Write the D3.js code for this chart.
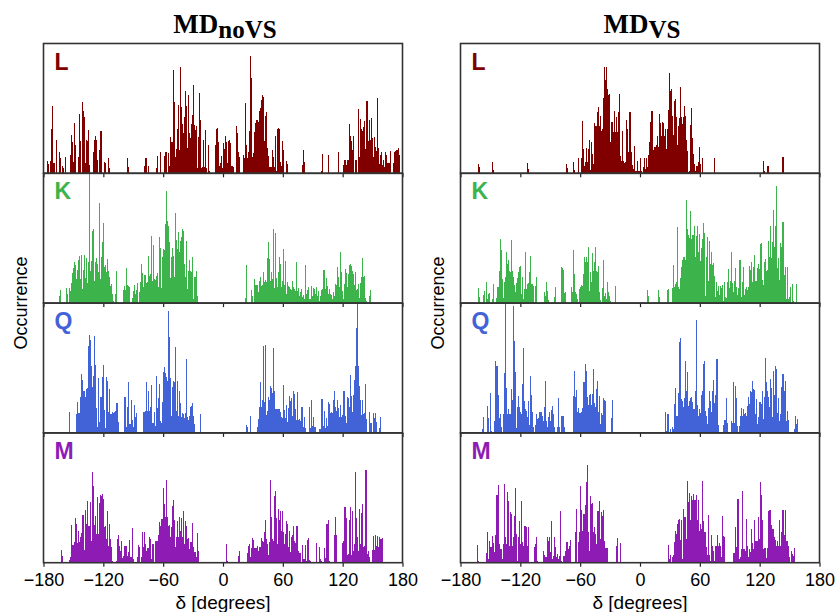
<!DOCTYPE html>
<html>
<head>
<meta charset="utf-8">
<script src="https://cdn.jsdelivr.net/npm/d3@7/dist/d3.min.js"></script>
<style>
  body { margin: 0; background: #fff; }
  svg { display: block; }
</style>
</head>
<body>
<script>
// data: 1-degree histogram bins, [left edge of bin (deg), count]
var xTicks = [-180, -120, -60, 0, 60, 120, 180];
var residues = ["L", "K", "Q", "M"];
var residueColors = ["#800000", "#3cb44b", "#4262d8", "#8e1cb4"];
var columnTitles = [["MD", "noVS"], ["MD", "VS"]];

var L_noVS = [[-176,12],[-175,9],[-173,12],[-172,44],[-171,67],[-170,10],[-169,10],[-167,33],[-164,21],[-163,15],[-161,7],[-160,5],[-158,16],[-153,18],[-152,38],[-151,31],[-150,11],[-149,50],[-148,28],[-145,16],[-144,59],[-143,32],[-141,71],[-140,62],[-139,56],[-138,10],[-137,33],[-136,32],[-135,43],[-134,8],[-130,21],[-129,33],[-128,37],[-127,33],[-126,13],[-124,23],[-123,42],[-122,42],[-119,11],[-118,10],[-115,15],[-114,5],[-96,15],[-95,6],[-79,7],[-78,15],[-77,15],[-75,7],[-67,5],[-66,17],[-63,21],[-59,17],[-58,21],[-57,21],[-55,20],[-54,7],[-53,36],[-52,31],[-51,31],[-50,103],[-49,71],[-48,16],[-47,24],[-46,44],[-45,68],[-44,23],[-43,106],[-42,66],[-41,49],[-40,40],[-39,56],[-38,82],[-37,67],[-36,25],[-35,78],[-34,40],[-33,35],[-32,49],[-31,58],[-30,88],[-29,48],[-28,43],[-27,47],[-26,5],[-25,36],[-24,80],[-23,53],[-22,5],[-21,6],[-20,33],[-19,6],[-18,43],[-17,5],[-15,28],[-14,2],[-8,28],[-7,44],[-6,45],[-5,31],[-4,7],[-3,10],[-2,17],[-1,5],[0,30],[1,24],[2,37],[3,31],[4,10],[5,32],[6,33],[7,30],[8,7],[9,7],[10,6],[13,47],[14,40],[15,21],[16,16],[20,18],[21,15],[22,70],[23,28],[24,15],[25,21],[26,42],[27,117],[28,95],[29,16],[30,20],[31,41],[32,50],[33,53],[34,53],[35,51],[36,62],[37,65],[38,73],[39,78],[40,76],[41,32],[42,57],[43,61],[44,25],[45,17],[46,6],[47,6],[48,6],[49,23],[50,16],[51,6],[52,37],[53,2],[54,44],[55,45],[56,44],[57,11],[58,7],[59,32],[60,23],[63,12],[64,9],[79,8],[80,23],[81,11],[98,2],[99,19],[105,18],[115,21],[120,8],[121,13],[122,13],[123,8],[124,13],[125,13],[126,49],[127,37],[128,32],[129,23],[130,37],[132,13],[133,13],[135,64],[136,16],[137,54],[138,44],[139,42],[140,46],[141,52],[142,24],[143,72],[144,72],[145,32],[146,53],[147,33],[148,55],[149,35],[150,16],[151,36],[152,26],[153,22],[154,75],[155,25],[156,9],[157,18],[158,21],[159,8],[160,13],[161,6],[162,21],[163,18],[164,10],[165,10],[166,10],[167,22],[170,10],[171,21],[172,22],[173,23],[174,23],[175,25],[176,18]];

var K_noVS = [[-164,7],[-163,13],[-157,15],[-156,9],[-154,15],[-153,12],[-152,20],[-151,30],[-150,35],[-149,41],[-148,38],[-147,24],[-146,33],[-145,43],[-144,47],[-143,24],[-142,48],[-141,14],[-140,33],[-139,48],[-138,25],[-137,45],[-136,20],[-135,41],[-134,128],[-133,32],[-132,42],[-131,72],[-130,74],[-129,22],[-128,41],[-127,45],[-126,39],[-125,31],[-124,99],[-123,24],[-122,46],[-121,61],[-120,80],[-119,36],[-118,38],[-117,31],[-116,44],[-115,32],[-114,26],[-113,17],[-112,19],[-111,9],[-110,2],[-108,9],[-107,32],[-100,13],[-99,17],[-98,13],[-97,35],[-96,18],[-95,17],[-94,16],[-91,5],[-90,12],[-89,18],[-88,9],[-87,13],[-86,20],[-84,11],[-83,21],[-82,39],[-81,30],[-80,16],[-79,28],[-78,28],[-77,20],[-76,21],[-75,47],[-74,27],[-73,29],[-72,67],[-71,22],[-70,58],[-69,24],[-68,23],[-67,27],[-66,30],[-65,16],[-64,66],[-63,55],[-62,15],[-61,46],[-60,54],[-59,53],[-58,79],[-57,111],[-56,82],[-55,77],[-54,61],[-53,25],[-52,46],[-51,55],[-50,47],[-49,26],[-48,90],[-47,63],[-46,54],[-45,71],[-44,51],[-43,62],[-42,66],[-41,74],[-40,72],[-39,39],[-38,26],[-37,62],[-36,14],[-35,32],[-34,43],[-33,32],[-32,31],[-31,46],[-30,4],[-29,26],[-28,26],[-27,32],[-26,7],[22,5],[23,38],[28,13],[29,7],[31,24],[32,18],[33,18],[34,18],[35,11],[36,22],[37,26],[38,17],[39,18],[40,31],[41,21],[42,23],[43,21],[44,45],[45,61],[46,44],[47,22],[48,31],[49,24],[50,74],[51,15],[52,70],[53,25],[54,16],[55,31],[56,46],[57,39],[58,16],[59,22],[60,54],[61,18],[62,42],[63,9],[64,21],[65,17],[66,16],[67,14],[68,13],[69,22],[70,16],[71,14],[72,12],[73,41],[74,12],[75,15],[76,7],[77,11],[78,14],[79,6],[80,8],[81,4],[82,38],[83,9],[84,13],[85,16],[86,4],[87,4],[88,17],[89,7],[90,15],[91,14],[92,9],[93,16],[94,7],[95,12],[96,2],[97,7],[98,13],[99,14],[100,33],[101,33],[102,14],[103,25],[104,17],[105,9],[106,14],[107,9],[108,8],[109,4],[110,11],[111,7],[112,19],[113,18],[114,36],[115,26],[116,16],[117,51],[118,31],[119,12],[120,4],[121,19],[122,34],[123,30],[124,16],[125,29],[126,38],[127,39],[128,37],[129,32],[130,29],[131,18],[132,31],[133,13],[134,14],[135,19],[136,5],[137,20],[138,26],[139,45],[140,26],[141,27],[142,5],[143,2],[146,7],[147,13]];

var Q_noVS = [[-154,21],[-147,19],[-146,31],[-145,20],[-144,20],[-143,36],[-142,59],[-141,53],[-140,42],[-139,42],[-138,36],[-137,44],[-136,45],[-135,86],[-134,97],[-133,92],[-132,66],[-131,46],[-130,57],[-129,96],[-128,67],[-127,25],[-126,6],[-125,55],[-124,11],[-123,36],[-122,36],[-121,56],[-120,67],[-119,23],[-118,5],[-117,56],[-116,52],[-115,21],[-114,44],[-113,19],[-112,19],[-111,21],[-110,20],[-109,21],[-108,22],[-107,30],[-106,30],[-105,11],[-99,36],[-98,36],[-97,6],[-96,26],[-95,51],[-94,9],[-93,9],[-92,33],[-91,13],[-90,6],[-89,28],[-88,16],[-87,20],[-80,21],[-79,21],[-78,22],[-77,51],[-76,22],[-75,42],[-74,22],[-73,26],[-72,48],[-71,10],[-70,10],[-69,21],[-68,7],[-67,57],[-66,25],[-65,35],[-64,49],[-63,12],[-62,10],[-61,31],[-60,61],[-59,65],[-58,60],[-57,56],[-56,52],[-55,121],[-54,95],[-53,55],[-52,17],[-51,46],[-50,52],[-49,51],[-48,85],[-47,22],[-46,52],[-45,17],[-44,42],[-43,30],[-42,16],[-41,20],[-40,19],[-39,15],[-38,20],[-37,73],[-36,16],[-35,13],[-34,17],[-33,26],[-32,27],[-31,30],[-30,17],[-29,9],[-23,19],[23,8],[24,6],[27,17],[34,6],[35,14],[36,26],[37,51],[38,26],[39,33],[40,86],[41,31],[42,87],[43,18],[44,22],[45,36],[46,33],[47,47],[48,45],[49,40],[50,84],[51,42],[52,24],[53,24],[54,24],[55,24],[56,24],[57,21],[58,16],[59,15],[60,48],[61,23],[62,15],[63,28],[64,11],[65,25],[66,37],[67,32],[68,35],[69,17],[70,42],[71,39],[72,24],[73,13],[74,41],[75,13],[76,14],[77,12],[78,26],[79,26],[80,6],[81,16],[82,5],[86,26],[87,5],[88,33],[89,7],[90,16],[91,6],[92,6],[96,4],[97,4],[98,34],[99,34],[100,7],[101,22],[102,5],[103,15],[104,7],[105,31],[106,29],[107,20],[108,21],[109,20],[110,33],[111,42],[112,26],[113,22],[114,33],[115,25],[116,16],[117,28],[118,16],[119,18],[120,42],[121,42],[122,17],[123,10],[124,36],[125,35],[126,26],[127,58],[128,37],[129,21],[130,38],[131,53],[132,66],[133,104],[134,128],[135,66],[136,47],[137,33],[138,18],[139,33],[140,19],[141,20],[142,49],[143,14],[146,21],[147,10],[148,10],[150,20],[151,15],[152,20],[153,11],[156,5],[157,16]];

var M_noVS = [[-162,13],[-161,7],[-154,3],[-153,6],[-152,37],[-151,18],[-150,18],[-149,21],[-148,44],[-147,38],[-146,20],[-145,32],[-144,21],[-143,26],[-142,30],[-141,47],[-140,47],[-139,13],[-138,52],[-137,38],[-136,61],[-135,36],[-134,36],[-133,60],[-132,22],[-131,90],[-130,76],[-129,37],[-128,46],[-127,29],[-126,65],[-125,29],[-124,59],[-123,67],[-122,66],[-121,68],[-120,63],[-119,35],[-118,36],[-117,24],[-116,51],[-115,17],[-114,38],[-113,24],[-112,16],[-111,2],[-107,2],[-106,24],[-105,28],[-104,17],[-103,12],[-102,22],[-101,5],[-100,7],[-99,17],[-98,17],[-97,17],[-96,7],[-95,11],[-94,23],[-93,6],[-92,6],[-91,34],[-90,4],[-86,6],[-85,18],[-84,16],[-82,6],[-81,31],[-80,16],[-79,31],[-78,19],[-77,12],[-76,15],[-75,15],[-74,26],[-73,24],[-72,4],[-71,19],[-70,19],[-68,22],[-67,22],[-66,22],[-65,28],[-64,40],[-63,36],[-62,43],[-61,43],[-60,74],[-59,58],[-58,45],[-57,82],[-56,45],[-55,36],[-54,37],[-53,26],[-52,35],[-51,56],[-50,62],[-49,42],[-48,16],[-47,26],[-46,41],[-45,26],[-44,45],[-43,32],[-42,44],[-41,26],[-40,51],[-39,19],[-38,41],[-37,36],[-36,24],[-35,25],[-34,14],[-33,21],[-32,21],[-31,39],[-30,16],[-29,11],[-28,11],[-27,6],[-26,30],[-25,12],[3,19],[4,2],[15,7],[16,12],[24,10],[25,17],[26,19],[27,6],[28,15],[29,25],[30,23],[31,15],[32,15],[33,15],[34,17],[35,12],[36,16],[37,16],[38,25],[39,22],[40,21],[41,31],[42,42],[43,24],[44,19],[45,8],[46,21],[47,82],[48,45],[49,24],[50,22],[51,66],[52,71],[53,44],[54,19],[55,53],[56,42],[57,51],[58,32],[59,51],[60,31],[61,19],[62,29],[63,41],[64,38],[65,16],[66,32],[67,11],[68,26],[69,28],[70,36],[71,22],[72,20],[73,36],[74,36],[75,12],[76,10],[77,10],[79,18],[80,4],[81,4],[82,18],[83,2],[84,23],[85,25],[86,3],[87,2],[93,20],[96,16],[97,4],[98,2],[101,15],[102,5],[103,38],[104,38],[105,42],[106,2],[111,28],[112,45],[113,28],[119,20],[120,22],[121,55],[122,55],[123,44],[124,8],[125,9],[126,42],[127,55],[128,8],[129,51],[130,12],[131,19],[132,90],[133,44],[134,26],[135,12],[136,53],[137,19],[138,49],[139,58],[140,16],[141,17],[142,92],[143,92],[144,9],[145,12],[146,6],[149,13],[150,27],[151,13],[152,28],[153,17],[154,27],[155,16],[156,26],[157,24],[158,24],[159,25]];

var L_VS = [[-162,9],[-161,6],[-148,11],[-147,3],[-113,10],[-112,4],[-74,9],[-73,5],[-67,11],[-66,3],[-62,15],[-59,15],[-58,52],[-57,24],[-56,7],[-55,11],[-54,25],[-53,11],[-52,24],[-51,33],[-50,3],[-49,31],[-48,19],[-47,9],[-46,50],[-45,47],[-44,47],[-43,61],[-42,66],[-41,47],[-40,57],[-39,42],[-38,44],[-37,75],[-36,106],[-35,93],[-34,106],[-33,84],[-32,78],[-31,79],[-30,31],[-29,51],[-28,51],[-27,41],[-26,62],[-25,41],[-24,56],[-23,41],[-22,61],[-21,79],[-20,17],[-19,12],[-18,42],[-17,12],[-16,10],[-15,11],[-14,53],[-13,44],[-12,21],[-11,61],[-10,61],[-9,21],[-8,8],[-7,4],[-6,27],[-5,2],[-4,2],[-3,12],[-2,2],[-1,2],[0,15],[1,2],[3,6],[4,15],[5,4],[6,15],[7,6],[8,18],[9,31],[10,51],[11,62],[12,62],[13,23],[14,26],[15,26],[16,28],[17,37],[18,26],[19,59],[20,50],[21,37],[22,51],[23,50],[24,37],[25,44],[26,24],[27,44],[28,63],[29,100],[30,82],[31,84],[32,57],[33,38],[34,72],[35,74],[36,56],[37,28],[38,47],[39,55],[40,86],[41,56],[42,49],[43,56],[44,67],[45,57],[46,33],[47,22],[48,1],[49,2],[50,48],[51,65],[52,35],[53,19],[54,9],[55,2],[56,7],[57,7],[58,11],[59,26],[60,9],[62,15],[74,15],[123,12],[124,2],[127,7],[128,7],[142,16],[143,16]];

var K_VS = [[-162,15],[-161,6],[-157,8],[-156,12],[-154,21],[-153,4],[-152,9],[-151,10],[-148,4],[-147,19],[-144,5],[-143,16],[-142,16],[-141,32],[-140,64],[-139,53],[-138,24],[-137,5],[-136,21],[-135,26],[-134,51],[-133,39],[-132,43],[-131,32],[-130,31],[-129,63],[-128,32],[-127,26],[-126,18],[-125,11],[-124,20],[-123,25],[-122,31],[-121,36],[-120,37],[-119,9],[-118,26],[-117,4],[-116,14],[-115,51],[-114,14],[-113,19],[-112,20],[-111,31],[-110,47],[-109,19],[-108,19],[-107,17],[-106,1],[-105,17],[-104,26],[-96,11],[-95,7],[-94,21],[-93,12],[-92,3],[-86,6],[-85,16],[-79,36],[-78,35],[-77,33],[-76,10],[-75,11],[-69,16],[-68,11],[-67,53],[-66,29],[-65,11],[-64,9],[-63,4],[-61,14],[-60,16],[-59,18],[-58,17],[-57,29],[-56,46],[-55,41],[-54,46],[-53,41],[-52,56],[-51,12],[-50,31],[-49,21],[-48,50],[-47,32],[-46,41],[-45,56],[-44,32],[-43,31],[-42,37],[-41,11],[-40,3],[-38,15],[-37,43],[-36,7],[-35,10],[-34,4],[-33,21],[-32,11],[-31,7],[-30,2],[-25,17],[7,13],[8,7],[18,13],[19,6],[27,13],[28,14],[32,15],[33,38],[34,16],[35,19],[36,21],[37,76],[38,16],[39,14],[40,25],[41,36],[42,43],[43,46],[44,46],[45,43],[46,102],[47,74],[48,68],[49,65],[50,92],[51,64],[52,68],[53,68],[54,77],[55,46],[56,67],[57,77],[58,51],[59,69],[60,42],[61,55],[62,64],[63,80],[64,70],[65,7],[66,46],[67,66],[68,22],[69,62],[70,39],[71,51],[72,38],[73,40],[74,27],[75,6],[76,21],[77,12],[78,17],[79,8],[80,17],[81,15],[82,18],[83,2],[84,21],[85,6],[86,5],[87,21],[88,34],[89,15],[90,22],[91,51],[92,20],[93,11],[94,22],[95,35],[96,16],[97,8],[98,15],[99,43],[100,43],[101,6],[102,21],[103,36],[104,8],[105,14],[106,16],[107,13],[108,16],[109,37],[110,33],[111,41],[112,21],[113,36],[114,48],[115,22],[116,22],[117,35],[118,39],[119,34],[120,59],[121,60],[122,23],[123,18],[124,41],[125,44],[126,32],[127,33],[128,62],[129,46],[130,77],[131,45],[132,61],[133,93],[134,56],[135,77],[136,116],[137,35],[138,45],[139,23],[140,60],[141,56],[142,81],[143,81],[144,28],[145,36],[146,4],[147,36],[148,4],[149,6],[150,16],[152,19],[153,2],[156,19]];

var Q_VS = [[-158,4],[-157,16],[-153,27],[-152,15],[-150,40],[-149,2],[-146,12],[-145,71],[-144,66],[-143,66],[-142,38],[-141,15],[-140,19],[-139,6],[-137,19],[-136,60],[-135,129],[-134,45],[-133,19],[-132,24],[-131,19],[-130,19],[-129,44],[-128,33],[-127,126],[-126,91],[-125,61],[-124,5],[-123,26],[-122,37],[-121,26],[-120,21],[-119,19],[-118,49],[-117,84],[-116,32],[-115,24],[-114,22],[-113,16],[-112,32],[-111,8],[-110,57],[-109,38],[-108,21],[-107,6],[-105,8],[-104,19],[-103,14],[-102,15],[-101,21],[-100,21],[-99,21],[-98,17],[-97,12],[-96,26],[-95,52],[-94,12],[-93,6],[-92,16],[-91,21],[-90,12],[-89,23],[-88,27],[-87,19],[-86,6],[-83,6],[-82,35],[-81,6],[-79,17],[-78,17],[-77,17],[-76,6],[-67,37],[-66,62],[-65,36],[-64,43],[-63,21],[-62,25],[-61,20],[-60,20],[-59,21],[-58,25],[-57,51],[-56,51],[-55,68],[-54,62],[-53,36],[-52,28],[-51,38],[-50,39],[-49,28],[-48,39],[-47,64],[-46,30],[-45,26],[-44,44],[-43,52],[-42,21],[-41,37],[-40,9],[-39,20],[-38,18],[-37,35],[-36,33],[-35,32],[-29,15],[-28,33],[25,21],[26,2],[27,19],[28,19],[30,4],[32,6],[33,4],[34,29],[35,45],[36,17],[37,17],[38,40],[39,90],[40,94],[41,34],[42,32],[43,26],[44,35],[45,71],[46,42],[47,61],[48,27],[49,32],[50,35],[51,36],[52,31],[53,24],[54,24],[55,42],[56,112],[57,28],[58,17],[59,24],[60,20],[61,38],[62,42],[63,68],[64,71],[65,22],[66,17],[67,9],[68,25],[69,42],[70,32],[71,21],[72,42],[73,53],[74,30],[75,38],[76,73],[77,73],[78,8],[83,8],[84,13],[85,13],[86,35],[87,10],[91,12],[92,10],[93,51],[94,10],[95,47],[96,35],[97,7],[99,7],[100,17],[101,25],[102,17],[103,24],[104,19],[105,20],[106,17],[107,27],[108,36],[109,29],[110,42],[111,41],[112,52],[113,44],[114,43],[115,19],[116,34],[117,9],[118,16],[119,31],[120,31],[121,29],[122,42],[123,14],[124,36],[125,74],[126,51],[127,42],[128,36],[129,26],[130,54],[131,45],[132,16],[133,62],[134,38],[135,66],[136,64],[137,20],[138,35],[139,12],[140,19],[141,46],[142,59],[143,59],[144,42],[145,52],[146,12],[147,22],[148,13],[154,4],[155,17],[156,9],[157,14]];

var M_VS = [[-163,18],[-162,2],[-154,10],[-153,31],[-152,4],[-151,22],[-150,16],[-149,16],[-148,27],[-147,20],[-146,11],[-145,28],[-144,67],[-143,67],[-142,77],[-141,19],[-140,14],[-139,14],[-138,4],[-137,19],[-136,78],[-135,26],[-134,19],[-133,70],[-132,61],[-131,17],[-130,50],[-129,48],[-128,17],[-127,26],[-126,46],[-125,74],[-124,29],[-123,2],[-122,26],[-121,41],[-120,19],[-119,61],[-118,21],[-117,17],[-116,36],[-115,36],[-114,35],[-113,17],[-112,35],[-106,16],[-105,19],[-104,26],[-103,2],[-97,12],[-96,8],[-95,6],[-94,6],[-93,26],[-92,22],[-91,26],[-90,11],[-89,41],[-88,4],[-87,7],[-86,26],[-85,16],[-84,6],[-83,9],[-82,4],[-81,7],[-80,51],[-79,2],[-77,7],[-76,7],[-75,12],[-74,21],[-73,21],[-72,14],[-71,17],[-70,23],[-69,1],[-65,31],[-64,53],[-63,1],[-62,21],[-61,31],[-60,76],[-59,52],[-58,32],[-57,48],[-56,48],[-55,57],[-54,80],[-53,97],[-52,31],[-51,12],[-50,66],[-49,58],[-48,59],[-47,31],[-46,35],[-45,29],[-44,19],[-43,51],[-42,51],[-41,61],[-40,24],[-39,50],[-38,46],[-37,52],[-36,22],[-35,15],[-34,15],[-33,15],[-24,17],[-23,25],[-20,20],[28,18],[29,4],[30,8],[32,6],[33,8],[34,21],[35,32],[36,29],[37,38],[38,42],[39,43],[40,23],[41,42],[42,4],[43,53],[44,45],[45,45],[46,24],[47,81],[48,60],[49,69],[50,42],[51,66],[52,62],[53,68],[54,62],[55,62],[56,67],[57,42],[58,62],[59,32],[60,38],[61,33],[62,81],[63,41],[64,31],[65,31],[66,16],[67,8],[68,47],[69,8],[70,2],[71,28],[72,17],[73,12],[74,2],[75,17],[76,17],[77,28],[78,17],[79,20],[80,17],[81,6],[82,46],[83,27],[84,26],[93,10],[94,10],[95,35],[96,16],[97,63],[98,63],[99,4],[100,6],[101,14],[102,71],[103,14],[104,14],[105,12],[106,43],[107,17],[108,6],[109,14],[110,11],[111,33],[112,20],[113,14],[114,42],[115,22],[116,22],[117,22],[118,45],[119,24],[120,80],[121,67],[122,42],[123,14],[124,15],[125,15],[126,5],[127,15],[128,51],[129,52],[130,52],[131,37],[132,33],[133,33],[134,26],[135,23],[136,17],[137,22],[138,17],[139,42],[140,17],[141,31],[142,52],[143,52],[144,28],[145,52],[146,22],[147,22],[148,17],[149,6],[151,12],[152,9],[153,7],[154,15]];

var columns = [
  [L_noVS, K_noVS, Q_noVS, M_noVS],
  [L_VS, K_VS, Q_VS, M_VS]
];

// layout
var W = 837, H = 612,
    colX = [[43.5, 402.5], [460.5, 819.5]],
    top0 = 43.5, panelH = 129.8,
    yMax = 129,
    binW = 1;

var svg = d3.select("body").append("svg")
    .attr("width", W)
    .attr("height", H)
    .style("font-family", "'Liberation Sans', Arial, sans-serif");

columns.forEach(function(col, ci) {
  var x = d3.scaleLinear().domain([-180, 180]).range(colX[ci]);
  var g = svg.append("g");

  col.forEach(function(series, ri) {
    var y0 = top0 + ri * panelH;
    var y = d3.scaleLinear().domain([0, yMax]).range([y0 + panelH, y0]);

    // bars
    g.append("g")
      .attr("fill", residueColors[ri])
      .attr("shape-rendering", "crispEdges")
      .selectAll("rect")
      .data(series)
      .enter().append("rect")
        .attr("x", d => x(d[0]))
        .attr("width", d => x(d[0] + binW) - x(d[0]))
        .attr("y", d => y(Math.min(d[1], yMax)))
        .attr("height", d => y(0) - y(Math.min(d[1], yMax)));

    // bottom axis of each panel (labels only on the last)
    var ax = d3.axisBottom(x).tickValues(xTicks).tickSize(4).tickSizeOuter(0);
    if (ri < col.length - 1) ax.tickFormat("");
    var axg = g.append("g")
      .attr("transform", "translate(0," + (y0 + panelH) + ")")
      .call(ax);
    axg.select(".domain").remove();
    axg.selectAll("line").attr("stroke", "#222").attr("stroke-width", 1.2);
    axg.selectAll("text")
      .attr("fill", "#000")
      .attr("font-size", 18)
      .attr("font-family", "'Liberation Sans', Arial, sans-serif")
      .attr("dy", "0.9em");

    // frame
    g.append("rect")
      .attr("x", colX[ci][0])
      .attr("y", y0)
      .attr("width", colX[ci][1] - colX[ci][0])
      .attr("height", panelH)
      .attr("fill", "none")
      .attr("stroke", "#333")
      .attr("stroke-width", 1.6);

    // residue letter
    g.append("text")
      .attr("x", colX[ci][0] + 11)
      .attr("y", y0 + 26)
      .attr("fill", residueColors[ri])
      .attr("font-size", 23)
      .attr("font-weight", "bold")
      .text(residues[ri]);
  });

  // x label
  g.append("text")
    .attr("x", (colX[ci][0] + colX[ci][1]) / 2)
    .attr("y", 609)
    .attr("text-anchor", "middle")
    .attr("font-size", 19)
    .text("δ [degrees]");

  // y label
  g.append("text")
    .attr("transform", "translate(" + (colX[ci][0] - 17) + "," + (top0 + 2 * panelH) + ") rotate(-90)")
    .attr("text-anchor", "middle")
    .attr("font-size", 18)
    .text("Occurrence");

  // title
  var t = g.append("text")
    .attr("x", (colX[ci][0] + colX[ci][1]) / 2 + 2)
    .attr("y", 33)
    .attr("text-anchor", "middle")
    .attr("font-family", "'Liberation Serif', 'Times New Roman', serif")
    .attr("font-weight", "bold")
    .attr("font-size", 27);
  t.append("tspan").text(columnTitles[ci][0]);
  t.append("tspan").attr("dy", 5).attr("font-size", 25).text(columnTitles[ci][1]);
});
</script>
</body>
</html>
